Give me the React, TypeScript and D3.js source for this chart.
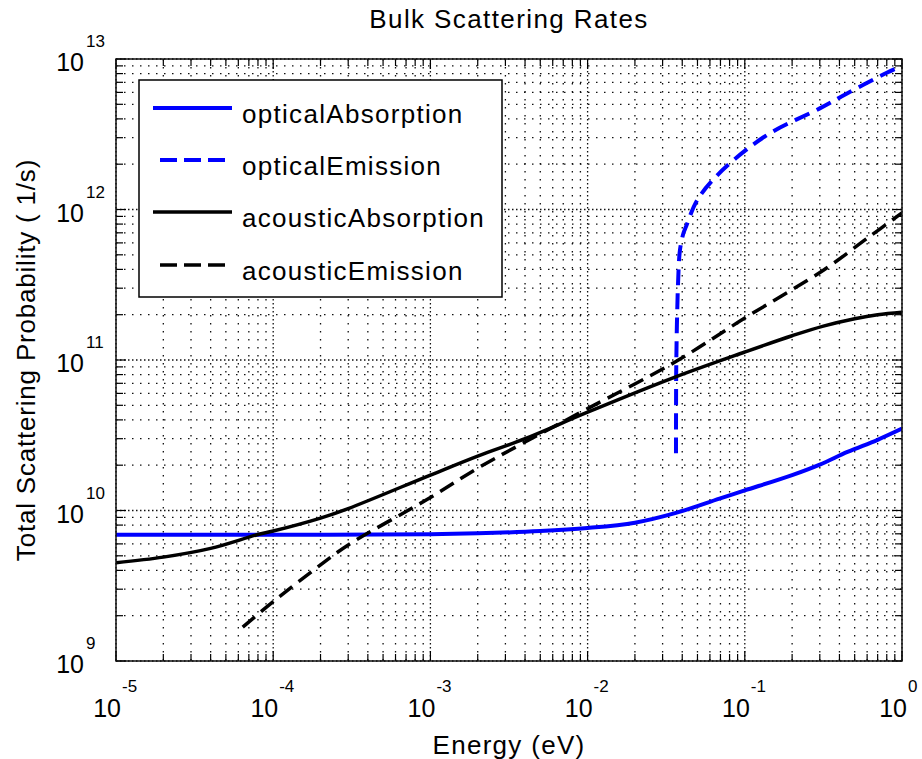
import React from "react";
import * as d3 from "d3";

// ---- Data (energy in eV, rate in 1/s) ----
const opticalAbsorptionE = [1e-5, 1e-4, 1e-3, 2e-3, 5e-3, 1e-2, 2e-2, 3.6e-2, 6.9e-2, 1e-1, 2e-1, 3e-1, 4.5e-1, 7e-1, 1];
const opticalAbsorptionR = [6.9e9, 6.9e9, 6.95e9, 7.05e9, 7.3e9, 7.65e9, 8.3e9, 9.6e9, 1.2e10, 1.36e10, 1.72e10, 2.02e10, 2.45e10, 2.95e10, 3.5e10];

const opticalEmissionE = [0.0365, 0.0366, 0.0369, 0.0371, 0.0376, 0.0387, 0.0407, 0.0423, 0.0497, 0.0665, 0.1, 0.151, 0.3, 0.447, 0.8, 1.0];
const opticalEmissionR = [2.4e10, 8e10, 1.5e11, 1.95e11, 3.2e11, 5.4e11, 6.95e11, 7.7e11, 1.15e12, 1.68e12, 2.45e12, 3.3e12, 4.7e12, 5.9e12, 8.1e12, 9.0e12];

const acousticAbsorptionE = [1e-5, 2e-5, 4e-5, 7.9e-5, 1e-4, 2e-4, 3e-4, 1e-3, 2e-3, 4e-3, 1e-2, 3.6e-2, 1e-1, 2e-1, 3.16e-1, 5e-1, 7e-1, 1];
const acousticAbsorptionR = [4.5e9, 4.9e9, 5.6e9, 6.9e9, 7.3e9, 8.9e9, 1.03e10, 1.72e10, 2.3e10, 3.0e10, 4.5e10, 7.7e10, 1.13e11, 1.45e11, 1.68e11, 1.88e11, 2.0e11, 2.08e11];

const acousticEmissionE = [6.4e-5, 1e-4, 2e-4, 3e-4, 1e-3, 2e-3, 4e-3, 1e-2, 3.6e-2, 1e-1, 3.16e-1, 5.96e-1, 1];
const acousticEmissionR = [1.68e9, 2.48e9, 4.35e9, 5.9e9, 1.22e10, 1.91e10, 2.85e10, 4.75e10, 9.7e10, 1.9e11, 3.95e11, 6.4e11, 9.5e11];

const seriesNames = ["opticalAbsorption", "opticalEmission", "acousticAbsorption", "acousticEmission"];
const xTickExps = [-5, -4, -3, -2, -1, 0];
const yTickExps = [9, 10, 11, 12, 13];

const titleText = "Bulk Scattering Rates";
const xLabelText = "Energy (eV)";
const yLabelText = "Total Scattering Probability ( 1/s)";

const FONT = "'Liberation Sans', Arial, Helvetica, sans-serif";

export default function App() {
  const W = 922, H = 759;
  const L = 116, R = 902, T = 59, B = 661;
  const x = d3.scaleLog().domain([1e-5, 1]).range([L, R]);
  const y = d3.scaleLog().domain([1e9, 1e13]).range([B, T]);

  const line = d3
    .line<[number, number]>()
    .x((d) => x(d[0]))
    .y((d) => y(d[1]))
    .curve(d3.curveCatmullRom.alpha(0.5));

  const zip = (a: number[], b: number[]) => a.map((v, i) => [v, b[i]] as [number, number]);

  const series = [
    { name: seriesNames[0], pts: zip(opticalAbsorptionE, opticalAbsorptionR), color: "#0000ff", dash: "", w: 4 },
    { name: seriesNames[1], pts: zip(opticalEmissionE, opticalEmissionR), color: "#0000ff", dash: "16,8", w: 4 },
    { name: seriesNames[2], pts: zip(acousticAbsorptionE, acousticAbsorptionR), color: "#000000", dash: "", w: 3.5 },
    { name: seriesNames[3], pts: zip(acousticEmissionE, acousticEmissionR), color: "#000000", dash: "16,8", w: 3.5 },
  ];

  const xMajor = xTickExps.map((e) => Math.pow(10, e));
  const xMinor: number[] = [];
  xTickExps.slice(0, -1).forEach((e) => {
    for (let k = 2; k <= 9; k++) xMinor.push(k * Math.pow(10, e));
  });
  const yMajor = yTickExps.map((e) => Math.pow(10, e));
  const yMinor: number[] = [];
  yTickExps.slice(0, -1).forEach((e) => {
    for (let k = 2; k <= 9; k++) yMinor.push(k * Math.pow(10, e));
  });

  const legendRows = [108, 160, 212, 265];

  return (
    <svg width={W} height={H} style={{ position: "absolute", left: 0, top: 0, background: "#fff" }} fontFamily={FONT}>
      <rect x={0} y={0} width={W} height={H} fill="#fff" />
      <defs>
        <clipPath id="plotClip">
          <rect x={L} y={T} width={R - L} height={B - T} />
        </clipPath>
      </defs>

      {/* grid */}
      <g stroke="#111" strokeWidth={1.3} fill="none">
        {xMinor.map((v, i) => (
          <line key={"xm" + i} x1={x(v)} x2={x(v)} y1={T} y2={B} strokeDasharray="1.5,6.5" />
        ))}
        {yMinor.map((v, i) => (
          <line key={"ym" + i} x1={L} x2={R} y1={y(v)} y2={y(v)} strokeDasharray="1.5,6.5" />
        ))}
        {xMajor.map((v, i) => (
          <line key={"xM" + i} x1={x(v)} x2={x(v)} y1={T} y2={B} strokeDasharray="1.5,2.5" />
        ))}
        {yMajor.map((v, i) => (
          <line key={"yM" + i} x1={L} x2={R} y1={y(v)} y2={y(v)} strokeDasharray="1.5,2.5" />
        ))}
      </g>

      {/* ticks */}
      <g stroke="#000" strokeWidth={1.2}>
        {xMinor.map((v, i) => (
          <g key={"xt" + i}>
            <line x1={x(v)} x2={x(v)} y1={B} y2={B - 7} />
            <line x1={x(v)} x2={x(v)} y1={T} y2={T + 7} />
          </g>
        ))}
        {xMajor.map((v, i) => (
          <g key={"xT" + i}>
            <line x1={x(v)} x2={x(v)} y1={B} y2={B - 10} />
            <line x1={x(v)} x2={x(v)} y1={T} y2={T + 10} />
          </g>
        ))}
        {yMinor.map((v, i) => (
          <g key={"yt" + i}>
            <line x1={L} x2={L + 7} y1={y(v)} y2={y(v)} />
            <line x1={R} x2={R - 7} y1={y(v)} y2={y(v)} />
          </g>
        ))}
        {yMajor.map((v, i) => (
          <g key={"yT" + i}>
            <line x1={L} x2={L + 10} y1={y(v)} y2={y(v)} />
            <line x1={R} x2={R - 10} y1={y(v)} y2={y(v)} />
          </g>
        ))}
      </g>

      {/* curves */}
      <g clipPath="url(#plotClip)" fill="none">
        {series.map((s) => (
          <path
            key={s.name}
            d={line(s.pts) || ""}
            stroke={s.color}
            strokeWidth={s.w}
            strokeDasharray={s.dash || undefined}
            strokeLinejoin="round"
          />
        ))}
      </g>

      {/* frame */}
      <rect x={L} y={T} width={R - L} height={B - T} fill="none" stroke="#111" strokeWidth={1.5} />

      {/* x tick labels */}
      {xTickExps.map((e) => {
        const px = x(Math.pow(10, e));
        return (
          <g key={"xl" + e} fill="#000">
            <text x={px + 5} y={717} fontSize={25} textAnchor="end">10</text>
            <text x={px + 6} y={692} fontSize={17}>{String(e)}</text>
          </g>
        );
      })}

      {/* y tick labels */}
      {yTickExps.map((e) => {
        const py = y(Math.pow(10, e));
        return (
          <g key={"yl" + e} fill="#000">
            <text x={84} y={py + 12} fontSize={25} textAnchor="end">10</text>
            <text x={86} y={py - 12} fontSize={17}>{String(e)}</text>
          </g>
        );
      })}

      {/* legend */}
      <rect x={139} y={80} width={363} height={217} fill="#fff" stroke="#000" strokeWidth={1.5} />
      {series.map((s, i) => {
        const ly = legendRows[i];
        return (
          <g key={"lg" + i}>
            {s.dash ? (
              <line x1={160} x2={228} y1={ly} y2={ly} stroke={s.color} strokeWidth={s.w} strokeDasharray="17,7" />
            ) : (
              <line x1={153} x2={232} y1={ly} y2={ly} stroke={s.color} strokeWidth={s.w} />
            )}
            <text x={242} y={ly + 15} fontSize={26} letterSpacing={1.3} fill="#000">{s.name}</text>
          </g>
        );
      })}

      {/* title & labels */}
      <text x={509} y={28} fontSize={26} letterSpacing={1.4} textAnchor="middle" fill="#000">{titleText}</text>
      <text x={509} y={754} fontSize={26} letterSpacing={1.3} textAnchor="middle" fill="#000">{xLabelText}</text>
      <text
        transform={`translate(35,360) rotate(-90)`}
        fontSize={26}
        letterSpacing={0.8}
        textAnchor="middle"
        fill="#000"
      >
        {yLabelText}
      </text>
    </svg>
  );
}
